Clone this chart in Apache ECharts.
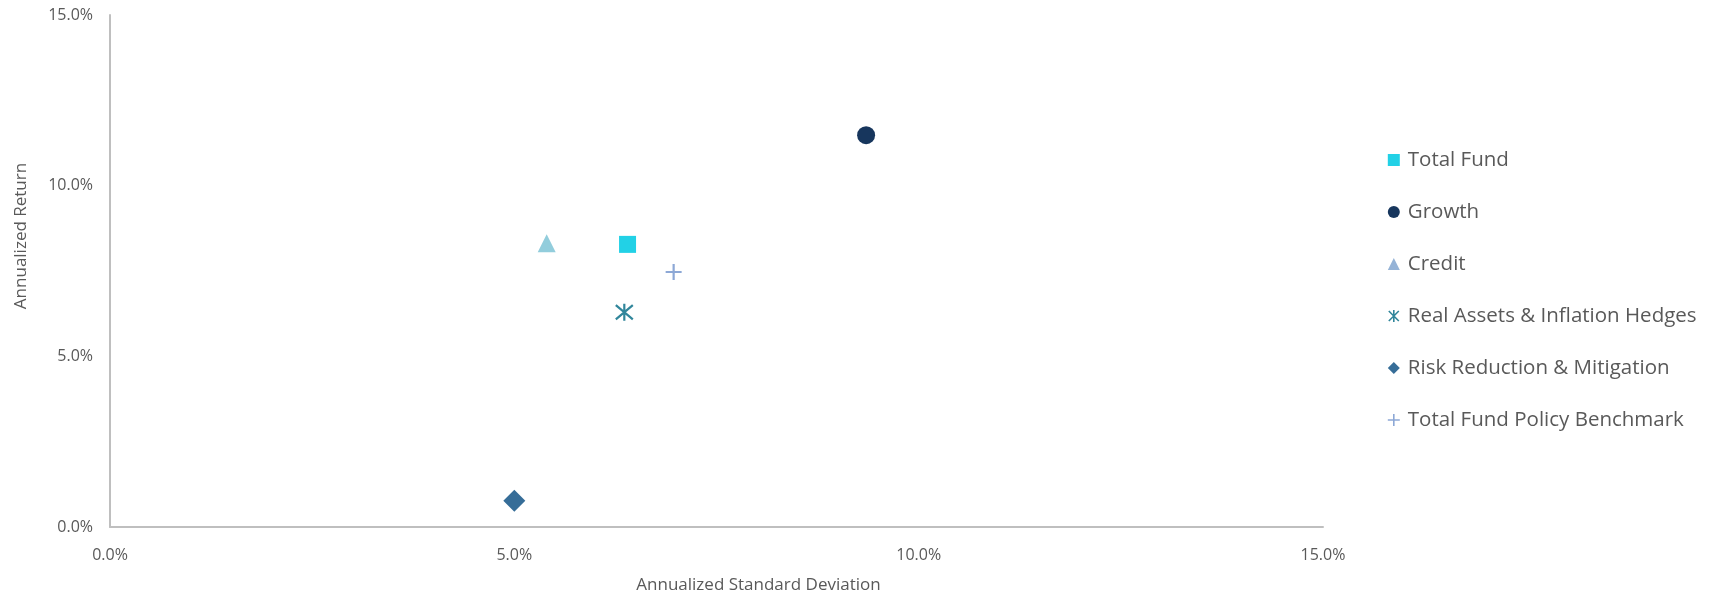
<!DOCTYPE html>
<html>
<head>
<meta charset="utf-8">
<script src="https://cdn.jsdelivr.net/npm/echarts@6/dist/echarts.min.js"></script>
<style>
  html, body { margin: 0; padding: 0; background: #fff; }
  #chart { width: 1715px; height: 599px; }
</style>
</head>
<body>
<div id="chart"></div>
<script>
// Risk / return by portfolio segment (percent units)
const seriesNames = [
  'Total Fund',
  'Growth',
  'Credit',
  'Real Assets & Inflation Hedges',
  'Risk Reduction & Mitigation',
  'Total Fund Policy Benchmark'
];
const stdDev    = [6.40, 9.35, 5.40, 6.36, 5.00, 6.97];
const annReturn = [8.28, 11.48, 8.31, 6.29, 0.77, 7.47];
const axisTicks = [0, 5, 10, 15];

const ASTERISK = 'path://M0,0 L10,10 M10,0 L0,10 M5,-1 L5,11';
const PLUS = 'path://M0,5 L10,5 M5,0 L5,10';

// marker style per segment
const styles = [
  { symbol: 'rect',     size: 17, color: '#22D1E6' },
  { symbol: 'circle',   size: 18, color: '#17365D' },
  { symbol: 'triangle', size: 18, color: '#92CDDC', legendColor: '#95B3D7' },
  { symbol: ASTERISK,   size: 17, color: '#31869B', stroke: true },
  { symbol: 'diamond',  size: 22, color: '#366D98' },
  { symbol: PLUS,       size: 16, color: '#8DA8D6', stroke: true }
];

const series = seriesNames.map((name, i) => {
  const s = styles[i];
  return {
    name,
    type: 'scatter',
    symbol: s.symbol,
    symbolSize: s.size,
    data: [[stdDev[i], annReturn[i]]],
    itemStyle: s.stroke
      ? { color: 'rgba(0,0,0,0)', borderColor: s.color, borderWidth: 2.2, opacity: 1 }
      : { color: s.color, opacity: 1 },
    emphasis: { disabled: true }
  };
});

const legendData = seriesNames.map((name, i) => {
  const s = styles[i];
  const c = s.legendColor || s.color;
  return {
    name,
    icon: s.symbol,
    itemStyle: s.stroke
      ? { color: 'rgba(0,0,0,0)', borderColor: c, borderWidth: 1.6, opacity: 1 }
      : { color: c, borderWidth: 0, opacity: 1 }
  };
});

const FONT = 'Open Sans';
const GREY = '#595959';
const labelStyle = { color: GREY, fontSize: 16, fontFamily: FONT };
const pct = v => v.toFixed(1) + '%';

const chart = echarts.init(document.getElementById('chart'));
chart.setOption({
  animation: false,
  textStyle: { fontFamily: FONT },
  grid: { left: 110, top: 15, right: 392, bottom: 72, containLabel: false },
  xAxis: {
    type: 'value',
    min: axisTicks[0],
    max: axisTicks[axisTicks.length - 1],
    interval: 5,
    name: 'Annualized Standard Deviation',
    nameLocation: 'middle',
    nameGap: 50,
    nameTextStyle: { color: GREY, fontSize: 17, fontFamily: FONT, padding: [0, 0, 0, 84] },
    axisLine: { show: true, lineStyle: { color: '#BFBFBF', width: 2 } },
    axisTick: { show: false },
    splitLine: { show: false },
    axisLabel: Object.assign({ margin: 20, formatter: pct }, labelStyle)
  },
  yAxis: {
    type: 'value',
    min: axisTicks[0],
    max: axisTicks[axisTicks.length - 1],
    interval: 5,
    name: 'Annualized Return',
    nameLocation: 'middle',
    nameGap: 80,
    nameTextStyle: { color: GREY, fontSize: 17, fontFamily: FONT, padding: [0, 0, 0, 70] },
    axisLine: { show: true, lineStyle: { color: '#BFBFBF', width: 2 } },
    axisTick: { show: false },
    splitLine: { show: false },
    axisLabel: Object.assign({ margin: 17, formatter: pct }, labelStyle)
  },
  legend: {
    orient: 'vertical',
    left: 1382,
    top: 143,
    itemWidth: 12,
    itemHeight: 12,
    itemGap: 28,
    selectedMode: false,
    data: legendData,
    textStyle: { color: GREY, fontSize: 20.5, fontFamily: FONT, lineHeight: 24, padding: [0, 0, 0, 3] }
  },
  series
});
</script>
</body>
</html>
